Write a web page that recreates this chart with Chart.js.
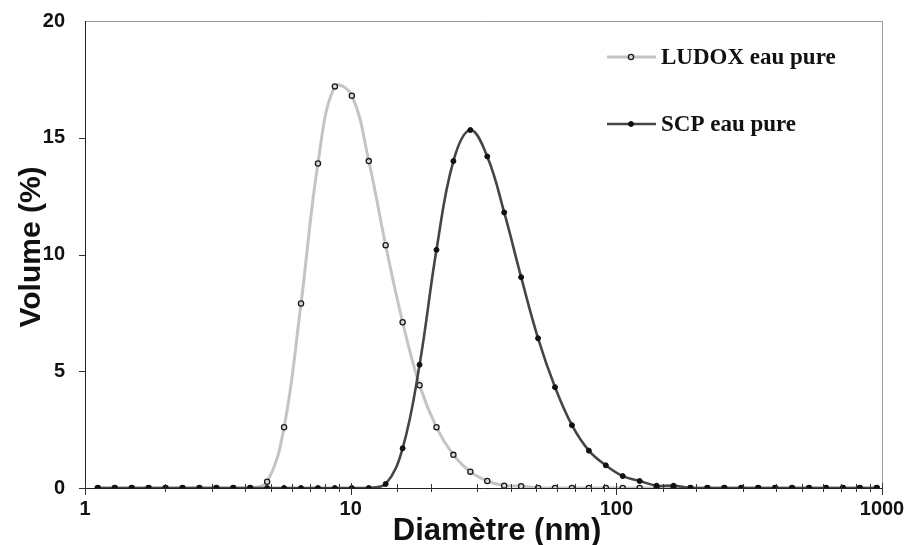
<!DOCTYPE html>
<html><head><meta charset="utf-8">
<script src="https://cdn.jsdelivr.net/npm/chart.js@4/dist/chart.umd.min.js"></script>
<style>html,body{margin:0;padding:0;background:#fff;}#wrap{width:909px;height:545px;position:relative;}</style>
</head><body><div id="wrap"><canvas id="c" width="909" height="545"></canvas></div>
<script>
// Diameters (nm) of the size classes
const diameters = [1.117,1.294,1.499,1.736,2.010,2.328,2.696,3.122,3.615,4.187,
  4.849,5.615,6.503,7.531,8.721,10.10,11.70,13.54,15.69,18.17,
  21.04,24.36,28.21,32.67,37.84,43.82,50.75,58.77,68.06,78.82,
  91.28,105.7,122.4,141.8,164.2,190.1,220.2,255.0,295.3,342.0,
  396.1,458.7,531.2,615.1,712.4,825.0,955.4];
const ludoxValues = [0,0,0,0,0,0,0,0,0,0,
  0.27,2.6,7.9,13.9,17.2,16.8,14.0,10.4,7.1,4.4,
  2.6,1.42,0.70,0.30,0.10,0.08,0,0,0,0,
  0,0,0,0,0,0,0,0,0,0,
  0,0,0,0,0,0,0];
const scpValues = [0,0,0,0,0,0,0,0,0,0,
  0,0,0,0,0,0,0,0.17,1.7,5.28,
  10.2,14.0,15.33,14.2,11.8,9.03,6.41,4.32,2.69,1.60,
  0.97,0.51,0.30,0.10,0.10,0,0,0,0,0,
  0,0,0,0,0,0,0];
const seriesNames = ['LUDOX eau pure','SCP eau pure'];
const xTickLabels = [1,10,100,1000];
const yTickLabels = [0,5,10,15,20];
const xTitle = 'Diamètre (nm)';
const yTitle = 'Volume (%)';

const toPts = vals => diameters.map((d,i)=>({x:d,y:vals[i]}));

const frame = {
  id:'frame',
  afterDraw(chart){
    const {ctx, chartArea:a, scales:{x,y}} = chart;
    ctx.save();
    ctx.strokeStyle='#9a9a9a'; ctx.lineWidth=1;
    ctx.beginPath();
    ctx.moveTo(a.left, a.top+0.5); ctx.lineTo(a.right+0.5, a.top+0.5);
    ctx.lineTo(a.right+0.5, a.bottom);
    ctx.stroke();
    ctx.strokeStyle='#222';
    ctx.beginPath();
    ctx.moveTo(a.left+0.5, a.top); ctx.lineTo(a.left+0.5, a.bottom+0.5); ctx.lineTo(a.right, a.bottom+0.5);
    ctx.stroke();
    ctx.strokeStyle='#333';
    x.ticks.forEach(t=>{
      const px = Math.round(x.getPixelForValue(t.value))+0.5;
      const major = xTickLabels.includes(t.value);
      ctx.beginPath();
      ctx.moveTo(px, a.bottom - (major?5:4));
      ctx.lineTo(px, a.bottom + (major?7:4));
      ctx.stroke();
    });
    yTickLabels.forEach(v=>{
      if (v===20) return;
      const py = Math.round(y.getPixelForValue(v))+0.5;
      ctx.beginPath(); ctx.moveTo(a.left-6, py); ctx.lineTo(a.left, py); ctx.stroke();
    });
    // axis titles
    ctx.fillStyle='#111';
    ctx.textAlign='center'; ctx.textBaseline='alphabetic';
    ctx.font='bold 31px "Liberation Sans", Arial, sans-serif';
    ctx.fillText(xTitle, 497, 540);
    ctx.translate(40, 247); ctx.rotate(-Math.PI/2);
    ctx.font='bold 30px "Liberation Sans", Arial, sans-serif';
    ctx.fillText(yTitle, 0, 0);
    ctx.restore();
  }
};

const legendPlugin = {
  id:'customLegend',
  afterDraw(chart){
    const ctx = chart.ctx;
    const items = [
      {ds: chart.data.datasets[0], y: 57},
      {ds: chart.data.datasets[1], y: 124}
    ];
    ctx.save();
    items.forEach(it=>{
      const ds = it.ds;
      ctx.strokeStyle = ds.borderColor; ctx.lineWidth = ds.borderWidth;
      ctx.beginPath(); ctx.moveTo(607, it.y); ctx.lineTo(656, it.y); ctx.stroke();
      ctx.beginPath(); ctx.arc(631, it.y, ds.pointRadius, 0, Math.PI*2);
      ctx.fillStyle = ds.pointBackgroundColor; ctx.fill();
      ctx.lineWidth = ds.pointBorderWidth; ctx.strokeStyle = ds.pointBorderColor; ctx.stroke();
      ctx.fillStyle = '#111';
      ctx.font = 'bold 23px "Liberation Serif", serif';
      ctx.textBaseline = 'middle'; ctx.textAlign='left';
      ctx.fillText(ds.label, 661, it.y+1);
    });
    ctx.restore();
  }
};

new Chart(document.getElementById('c'), {
  type:'line',
  data:{
    datasets:[
      {label:seriesNames[0], data:toPts(ludoxValues), borderColor:'#c4c4c4', borderWidth:3,
       pointRadius:2.6, pointBackgroundColor:'#d8d8d8', pointBorderColor:'#1a1a1a', pointBorderWidth:1.3,
       tension:0.4, order:2},
      {label:seriesNames[1], data:toPts(scpValues), borderColor:'#454545', borderWidth:2.6,
       pointRadius:2.5, pointBackgroundColor:'#111', pointBorderColor:'#111', pointBorderWidth:1,
       tension:0.4, order:1}
    ]
  },
  options:{
    responsive:false, animation:false, devicePixelRatio:1,
    layout:{padding:{top:21,right:27,left:0,bottom:0}},
    plugins:{legend:{display:false}, tooltip:{enabled:false}},
    scales:{
      x:{type:'logarithmic', min:1, max:1000,
        afterFit(s){ s.height = 57; s.paddingLeft = 0; s.paddingRight = 0; },
        grid:{display:false, drawTicks:false},
        border:{display:false},
        ticks:{autoSkip:false, maxRotation:0, padding:9, color:'#111',
          font:{family:'"Liberation Sans", Arial, sans-serif', size:20, weight:'bold'},
          callback:(v)=> xTickLabels.includes(v) ? String(v) : ''},
        title:{display:false}
      },
      y:{type:'linear', min:0, max:20,
        afterFit(s){ s.width = 85; s.paddingTop = 0; s.paddingBottom = 0; },
        afterBuildTicks(s){ s.ticks = yTickLabels.map(v=>({value:v})); },
        grid:{display:false, drawTicks:false},
        border:{display:false},
        ticks:{padding:20, color:'#111',
          font:{family:'"Liberation Sans", Arial, sans-serif', size:20, weight:'bold'}},
        title:{display:false}
      }
    }
  },
  plugins:[frame, legendPlugin]
});
</script></body></html>
